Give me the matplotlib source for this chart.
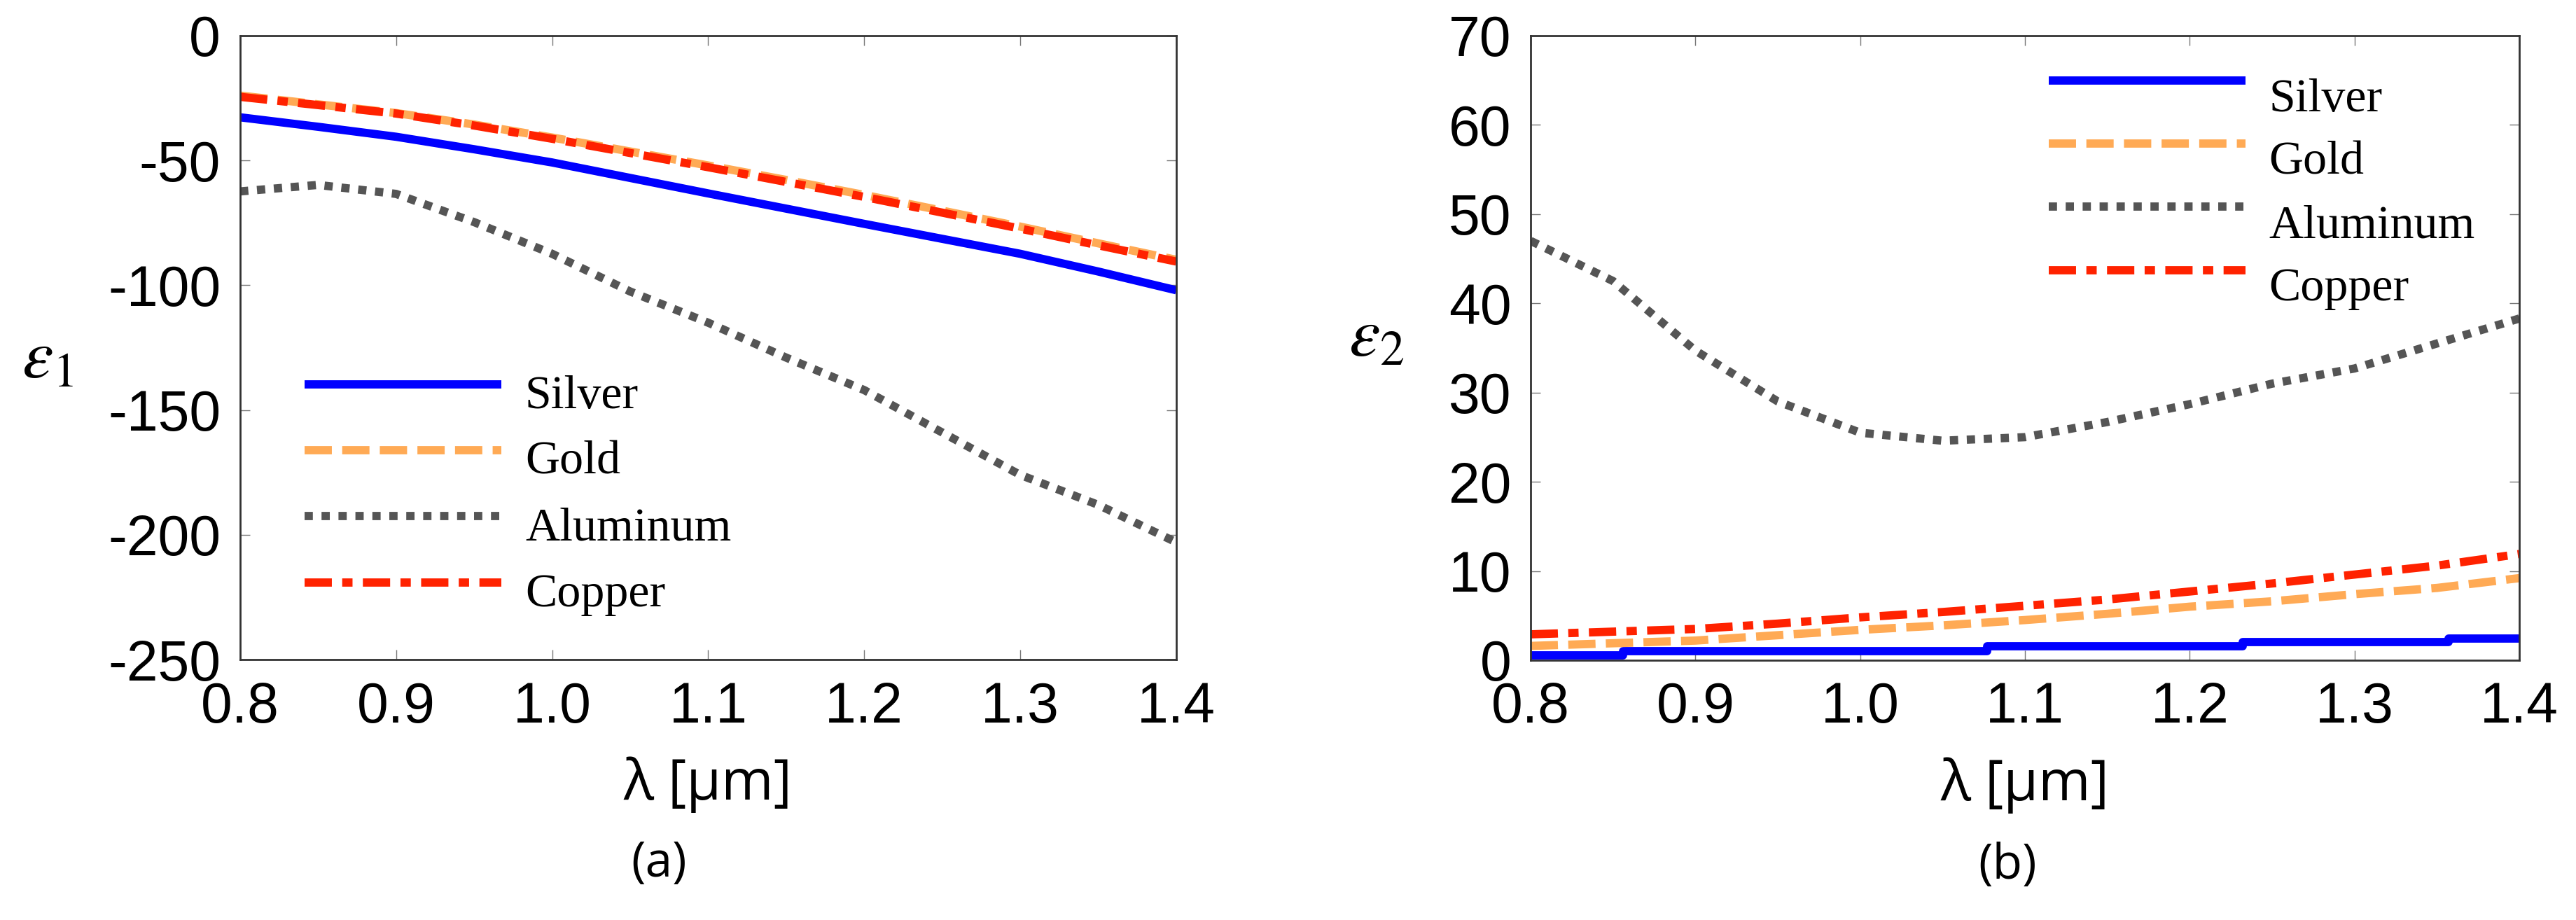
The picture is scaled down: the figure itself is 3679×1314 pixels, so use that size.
import matplotlib
matplotlib.use("Agg")
import matplotlib.pyplot as plt
import matplotlib.transforms as mtransforms
import numpy as np

plt.rcParams['axes.unicode_minus'] = False
plt.rcParams['mathtext.fontset'] = 'stix'

# ---------------- data ----------------
wavelength = [0.80, 0.85, 0.90, 0.95, 1.00, 1.05, 1.10, 1.15, 1.20, 1.25, 1.30, 1.35, 1.40]
materials = ["Silver", "Gold", "Aluminum", "Copper"]

eps1_silver = [-32.7, -36.5, -40.5, -45.5, -50.8, -57.0, -63.2, -69.3, -75.4, -81.4, -87.4, -94.5, -102.0]
eps1_gold = [-24.0, -27.5, -31.0, -35.6, -40.8, -46.4, -52.0, -57.8, -63.8, -70.1, -76.5, -83.2, -89.8]
eps1_aluminum = [-62.4, -59.8, -63.4, -74.7, -87.4, -102.5, -115.0, -129.0, -142.0, -159.0, -176.0, -188.0, -203.0]
eps1_copper = [-24.5, -27.8, -31.2, -36.0, -41.3, -47.0, -52.7, -58.6, -64.6, -70.9, -77.3, -84.0, -90.5]

eps2_silver_x = [0.80, 0.856, 1.077, 1.232, 1.357, 1.40]
eps2_silver = [0.55, 1.05, 1.57, 2.06, 2.44, 2.44]
eps2_gold = [1.6, 1.9, 2.2, 2.8, 3.4, 3.9, 4.5, 5.2, 6.0, 6.6, 7.4, 8.1, 9.2]
eps2_aluminum = [47.0, 42.5, 34.7, 29.0, 25.5, 24.6, 25.0, 26.7, 28.7, 31.0, 32.7, 35.5, 38.3]
eps2_copper = [2.9, 3.2, 3.5, 4.1, 4.8, 5.4, 6.1, 6.8, 7.7, 8.6, 9.6, 10.6, 11.9]

x_ticks = [0.8, 0.9, 1.0, 1.1, 1.2, 1.3, 1.4]
x_ticklabels = ["0.8", "0.9", "1.0", "1.1", "1.2", "1.3", "1.4"]
y1_ticks = [0, -50, -100, -150, -200, -250]
y2_ticks = [0, 10, 20, 30, 40, 50, 60, 70]

# ---------------- styles ----------------
LW = 8.5
styles = {
    "Silver": dict(color="#0000FF", linestyle="-", solid_capstyle="butt"),
    "Gold": dict(color="#FFAA55", linestyle=(0, (3.3, 1.25))),
    "Aluminum": dict(color="#555555", linestyle=(0, (1.0, 1.05))),
    "Copper": dict(color="#FF2200", linestyle=(0, (3.3, 1.25, 1.25, 1.25))),
}

fig = plt.figure(figsize=(36.79, 13.14), dpi=100)
ax1 = fig.add_axes([0.0932, 0.2831, 0.3634, 0.6781])
ax2 = fig.add_axes([0.5942, 0.2824, 0.3838, 0.6788])


def style_axes(ax):
    for sp in ax.spines.values():
        sp.set_linewidth(2.0)
        sp.set_color("#333333")
    ax.tick_params(direction="in", length=10, width=1.0, color="#777777",
                   top=True, right=True, labelsize=58)
    ax.tick_params(axis="x", pad=22)
    ax.tick_params(axis="y", pad=20)
    ax.set_xlim(0.8, 1.4)
    ax.set_xticks(x_ticks)
    ax.set_xticklabels(x_ticklabels)
    for lab in ax.get_xticklabels() + ax.get_yticklabels():
        lab.set_fontfamily(["Liberation Sans", "DejaVu Sans"])

# left panel
ax1.plot(wavelength, eps1_silver, lw=LW, label="Silver", **styles["Silver"])
ax1.plot(wavelength, eps1_gold, lw=LW, label="Gold", **styles["Gold"])
ax1.plot(wavelength, eps1_aluminum, lw=LW, label="Aluminum", **styles["Aluminum"])
ax1.plot(wavelength, eps1_copper, lw=LW, label="Copper", **styles["Copper"])
ax1.set_ylim(-250, 0)
ax1.set_yticks(y1_ticks)
ax1.set_yticklabels([str(v) for v in y1_ticks])
style_axes(ax1)

# right panel
ax2.plot(eps2_silver_x, eps2_silver, lw=LW, drawstyle="steps-post", label="Silver", **styles["Silver"])
ax2.plot(wavelength, eps2_gold, lw=LW, label="Gold", **styles["Gold"])
ax2.plot(wavelength, eps2_aluminum, lw=LW, label="Aluminum", **styles["Aluminum"])
ax2.plot(wavelength, eps2_copper, lw=LW, label="Copper", **styles["Copper"])
ax2.set_ylim(0, 70)
ax2.set_yticks(y2_ticks)
ax2.set_yticklabels([str(v) for v in y2_ticks])
style_axes(ax2)

leg_font = dict(family=["Liberation Serif", "DejaVu Serif"], size=49)
for ax, anchor, spacing, drop in [(ax1, (0.0688, 0.468), 0.48, 0.10),
                                  (ax2, (0.5237, 0.955), 0.42, 0.20)]:
    leg = ax.legend(loc="upper left", bbox_to_anchor=anchor, frameon=False,
                    prop=leg_font, handlelength=4.13, handletextpad=0.5,
                    borderpad=0, borderaxespad=0, labelspacing=spacing)
    shift = mtransforms.ScaledTranslation(0, -drop, fig.dpi_scale_trans)
    for t in leg.get_texts():
        t.set_transform(t.get_transform() + shift)

# axis labels
for ax, (ex, ey), sym in [(ax1, (-0.2057, 0.4826), r"$\varepsilon_1$"),
                          (ax2, (-0.156, 0.517), r"$\varepsilon_2$")]:
    ax.text(ex, ey, sym, transform=ax.transAxes, ha="center", va="center", fontsize=72)
    ax.text(0.5, -0.201, "λ [μm]", transform=ax.transAxes, ha="center", va="center",
            fontsize=58, family=["Open Sans", "DejaVu Sans"])

fig.text(941 / 3679, 1 - 1234 / 1314, "(a)", ha="center", va="center",
         fontsize=50, family=["Open Sans", "DejaVu Sans"])
fig.text(2867 / 3679, 1 - 1237 / 1314, "(b)", ha="center", va="center",
         fontsize=50, family=["Open Sans", "DejaVu Sans"])

fig.savefig("out.png", dpi=100)
